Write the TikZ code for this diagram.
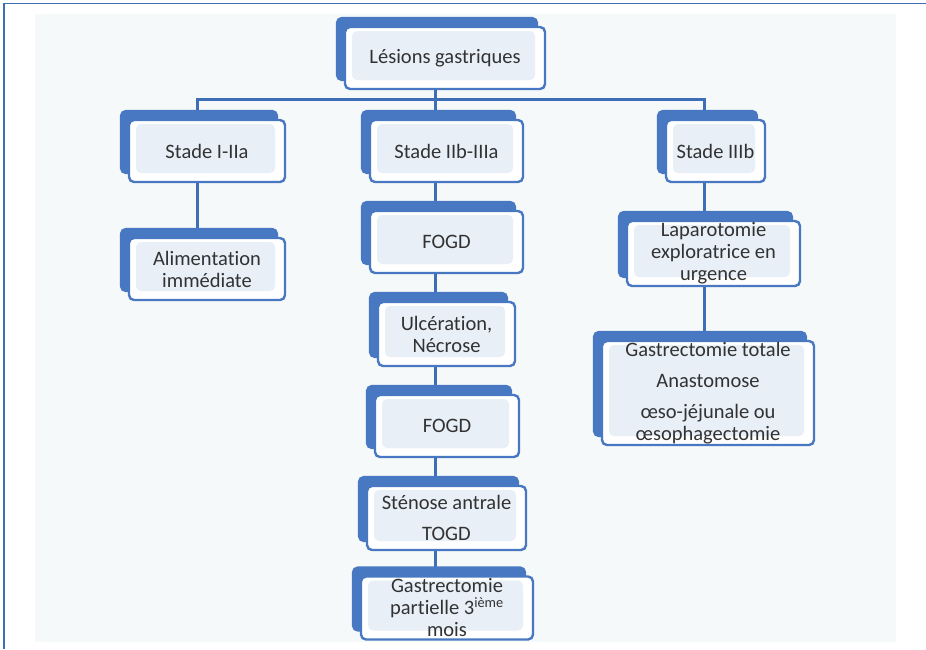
\documentclass[tikz,border=0pt]{standalone}
\usepackage{fontspec}
\setmainfont{Carlito}[Ligatures=NoCommon]
\usetikzlibrary{shadows,backgrounds}
\definecolor{boxblue}{RGB}{72,120,194}
\definecolor{linkblue}{RGB}{62,110,182}
\definecolor{boxfill}{RGB}{232,239,247}
\definecolor{panelfill}{RGB}{245,249,250}
\definecolor{textgray}{RGB}{50,50,50}
\tikzstyle{every stage} = []
\tikzstyle{stage} = [rectangle, draw=boxblue, line width=2.4pt, fill=white,
                     rounded corners=5pt, text=textgray, align=center, inner sep=0pt,
                     copy shadow={shadow xshift=-8pt, shadow yshift=9pt, opacity=1, fill=boxblue, draw=boxblue},
                     path picture={\fill[boxfill] ([xshift=7pt,yshift=9pt]path picture bounding box.south west)
                                   rectangle ([xshift=-10pt,yshift=-4pt]path picture bounding box.north east);},
                     every stage]
\tikzstyle{link} = [draw=linkblue, line width=3pt]
\tikzset{
    boxsize/.style 2 args = {minimum width=#1pt, minimum height=#2pt},
    every node/.style = {font=\fontsize{20.5}{22}\selectfont}
}
\begin{document}
\begin{tikzpicture}[x=1pt, y=-1pt]
            \useasboundingbox (0,0) rectangle (926,649);
            \draw[linkblue, line width=1.5pt] (4,649) -- (4,3.5) -- (926,3.5);

            \node[stage, boxsize={200}{62}]  (lesions) at (445,58)    {L\'esions gastriques};
            \node[stage, boxsize={156}{62}]  (stadeA)  at (207,151)   {Stade I-IIa};
            \node[stage, boxsize={153}{62}]  (stadeB)  at (446.5,151) {Stade IIb-IIIa};
            \node[stage, boxsize={99}{62}]   (stadeC)  at (715.5,151) {Stade IIIb};
            \node[stage, boxsize={156}{62}]  (alim)    at (207,269)   {Alimentation\\imm\'ediate};
            \node[stage, boxsize={153}{62}]  (fogdA)   at (446.5,242) {FOGD};
            \node[stage, boxsize={137}{64}]  (ulcer)   at (446.5,334) {Ulc\'eration,\\N\'ecrose};
            \node[stage, boxsize={144}{62}]  (fogdB)   at (447,426)   {FOGD};
            \node[stage, boxsize={159}{64}]  (stenose) at (446.5,518) {St\'enose antrale\\[9pt]TOGD};
            \node[stage, boxsize={172}{63}]  (gastroP) at (447,608)   {Gastrectomie\\partielle 3\textsuperscript{ième}\\mois};
            \node[stage, boxsize={173}{65}]  (laparo)  at (713.5,253.5) {Laparotomie\\exploratrice en\\urgence};
            \node[stage, boxsize={212}{104}] (gastroT) at (708,393)   {Gastrectomie totale\\[9pt]Anastomose\\[9pt]œso-jéjunale ou\\œsophagectomie};

            \coordinate (bar)  at (435,99);
            \coordinate (colA) at (197,0);
            \coordinate (colB) at (435,0);
            \coordinate (colC) at (704,0);

            \begin{scope}[on background layer]
            \fill[panelfill] (35,14) rectangle (896,642);
            \draw[link] (lesions.south -| bar) -- (bar);
            \draw[link] (stadeA.north -| colA) |- (bar) -| (stadeC.north -| colC);
            \path[link] (bar)                  edge [] (stadeB.north -| colB)
                        (stadeA.south -| colA) edge [] (alim.north -| colA)
                        (stadeB.south -| colB) edge [] (fogdA.north -| colB)
                        (fogdA.south -| colB)  edge [] (ulcer.north -| colB)
                        (ulcer.south -| colB)  edge [] (fogdB.north -| colB)
                        (fogdB.south -| colB)  edge [] (stenose.north -| colB)
                        (stenose.south -| colB) edge [] (gastroP.north -| colB)
                        (stadeC.south -| colC) edge [] (laparo.north -| colC)
                        (laparo.south -| colC) edge [] (gastroT.north -| colC);
            \end{scope}
        \end{tikzpicture}
\end{document}
